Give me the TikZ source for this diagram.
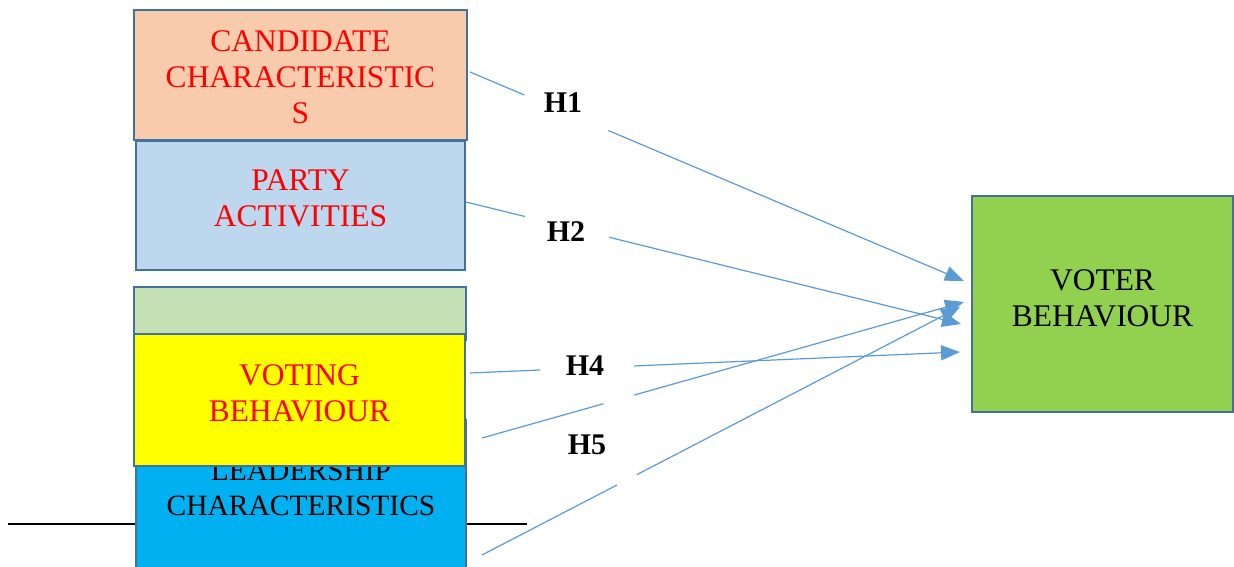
\documentclass[tikz,border=0pt]{standalone}
\usepackage{fontspec}
\setmainfont{Liberation Serif}
\usetikzlibrary{calc,arrows.meta}

\definecolor{edgeblue}{HTML}{41719C}
\definecolor{arrowblue}{HTML}{5B9BD5}
\definecolor{candfill}{HTML}{F8CBAD}
\definecolor{partyfill}{HTML}{BDD7EE}
\definecolor{palegreen}{HTML}{C5E0B4}
\definecolor{leadfill}{HTML}{00B0F0}
\definecolor{voteyellow}{HTML}{FFFF00}
\definecolor{votered}{HTML}{FF0000}
\definecolor{voterfill}{HTML}{92D050}

\tikzset{
  box/.style={draw=edgeblue,line width=1.6pt,inner sep=0pt},
  boxtext/.style={align=center,inner sep=0pt,font=\fontsize{31.5}{36}\selectfont},
  hyp/.style={inner sep=0pt,font=\fontsize{30}{36}\selectfont\bfseries},
  link/.style={arrowblue,line width=1.2pt},
  linkarrow/.style={link,-{Triangle[length=19pt,width=15pt]}}
}

\begin{document}
\begin{tikzpicture}[x=1pt,y=-1pt]
    \clip (0,0) rectangle (1234,567);
    \fill[white] (0,0) rectangle (1234,567);

    % left column
    \node[box,fill=candfill,minimum width=333pt,minimum height=130pt] (cand) at (300.5,75) {};
    \node[boxtext,votered] (candtxt) at ($(cand)+(0,2)$) {CANDIDATE\\CHARACTERISTIC\\S};
    \node[box,fill=partyfill,minimum width=329pt,minimum height=129pt] (party) at (300.5,205.5) {};
    \node[boxtext,votered] (partytxt) at ($(party)+(0,-7)$) {PARTY\\ACTIVITIES};
    \node[box,fill=palegreen,minimum width=332pt,minimum height=53pt] (extra) at (300,313.5) {};

    \coordinate (rulel) at (8,524);
    \coordinate (ruler) at (527,524);
    \draw[line width=2pt] (rulel) -- (ruler);

    \node[box,fill=leadfill,minimum width=330pt,minimum height=200pt] (lead) at (301,520) {};
    \node[boxtext,font=\fontsize{29.5}{35}\selectfont] (leadtxt) at ($(lead)+(0,-32)$) {LEADERSHIP\\CHARACTERISTICS};
    \node[box,fill=voteyellow,minimum width=331pt,minimum height=132pt] (vote) at (299.5,400) {};
    \node[boxtext,votered] (votetxt) at ($(vote)+(0,-7)$) {VOTING\\BEHAVIOUR};

    % right box
    \node[box,fill=voterfill,minimum width=261pt,minimum height=216pt] (voter) at (1102.5,304) {};
    \node[boxtext] (votertxt) at ($(voter)+(0,-6)$) {VOTER\\BEHAVIOUR};

    % hypotheses
    \coordinate (s1) at (470,72);  \coordinate (t1) at (964,281);
    \coordinate (s2) at (466,202); \coordinate (t2) at (961,324);
    \coordinate (s3) at (482,438); \coordinate (t3) at (964,302);
    \coordinate (s4) at (470,373); \coordinate (t4) at (960,352);
    \coordinate (s5) at (482,555); \coordinate (t5) at (960,307);

    \draw[link] (s1) -- ($(s1)!0.110!(t1)$);
    \draw[linkarrow] ($(s1)!0.280!(t1)$) -- (t1);
    \draw[link] (s2) -- ($(s2)!0.119!(t2)$);
    \draw[linkarrow] ($(s2)!0.289!(t2)$) -- (t2);
    \draw[link] (s3) -- ($(s3)!0.252!(t3)$);
    \draw[linkarrow] ($(s3)!0.316!(t3)$) -- (t3);
    \draw[link] (s4) -- ($(s4)!0.143!(t4)$);
    \draw[linkarrow] ($(s4)!0.335!(t4)$) -- (t4);
    \draw[link] (s5) -- ($(s5)!0.282!(t5)$);
    \draw[linkarrow] ($(s5)!0.324!(t5)$) -- (t5);

    \node[hyp] (h1) at (563,103) {H1};
    \node[hyp] (h2) at (566,232) {H2};
    \node[hyp] (h4) at (585,366) {H4};
    \node[hyp] (h5) at (587,445) {H5};
\end{tikzpicture}
\end{document}
